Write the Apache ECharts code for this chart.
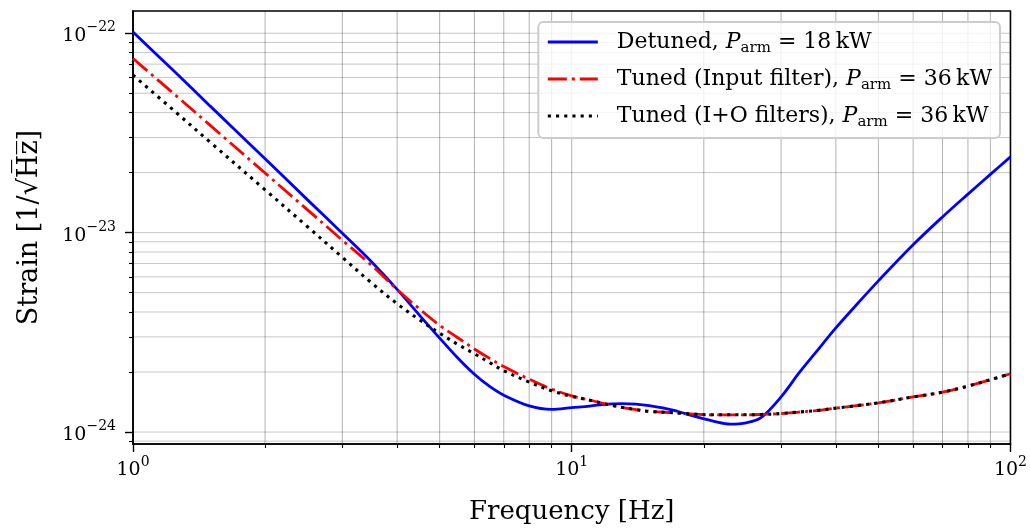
<!DOCTYPE html>
<html><head><meta charset="utf-8">
<script src="https://cdn.jsdelivr.net/npm/echarts@6/dist/echarts.min.js"></script>
<style>html,body{margin:0;padding:0;background:#fff}#c{width:1030px;height:530px}</style>
</head><body><div id="c"></div>
<script>
// ---- data (strain in 1/sqrt(Hz)) ----
const freq = [1,1.25,1.5,2,2.5,3,3.5,4,4.5,5,5.5,6,6.5,7,8,9,10,11,12,13,14,15,17,19,21,23,25,27,30,33,36,40,45,50,60,70,80,90,100];
const detuned = [1.015e-22,6.35e-23,4.31e-23,2.35e-23,1.46e-23,9.93e-24,7.13e-24,5.19e-24,3.85e-24,2.96e-24,2.35e-24,1.948e-24,1.693e-24,1.531e-24,1.353e-24,1.299e-24,1.326e-24,1.35e-24,1.38e-24,1.388e-24,1.38e-24,1.356e-24,1.288e-24,1.20e-24,1.135e-24,1.096e-24,1.113e-24,1.18e-24,1.50e-24,1.984e-24,2.51e-24,3.33e-24,4.45e-24,5.73e-24,8.69e-24,1.199e-23,1.561e-23,1.961e-23,2.40e-23];
const tunedInput = [7.47e-23,4.89e-23,3.45e-23,1.99e-23,1.30e-23,9.17e-24,6.84e-24,5.18e-24,4.14e-24,3.43e-24,2.97e-24,2.61e-24,2.34e-24,2.13e-24,1.84e-24,1.64e-24,1.52e-24,1.445e-24,1.38e-24,1.33e-24,1.296e-24,1.27e-24,1.25e-24,1.23e-24,1.22e-24,1.22e-24,1.22e-24,1.225e-24,1.238e-24,1.26e-24,1.28e-24,1.318e-24,1.36e-24,1.40e-24,1.50e-24,1.585e-24,1.70e-24,1.83e-24,1.96e-24];
const tunedIO = [6.17e-23,4.03e-23,2.84e-23,1.64e-23,1.07e-23,7.52e-24,5.59e-24,4.40e-24,3.65e-24,3.13e-24,2.75e-24,2.47e-24,2.23e-24,2.03e-24,1.78e-24,1.61e-24,1.51e-24,1.445e-24,1.38e-24,1.33e-24,1.296e-24,1.27e-24,1.25e-24,1.23e-24,1.22e-24,1.22e-24,1.22e-24,1.225e-24,1.238e-24,1.26e-24,1.28e-24,1.318e-24,1.36e-24,1.40e-24,1.50e-24,1.585e-24,1.70e-24,1.83e-24,1.96e-24];
const seriesNames = ['Detuned', 'Tuned (Input filter)', 'Tuned (I+O filters)'];
const legendPower = ['18', '36', '36'];
const xMajorTicks = [1, 10, 100];
const xMinorTicks = [2,3,4,5,6,7,8,9,20,30,40,50,60,70,80,90];
const yMajorTicks = [1e-24, 1e-23, 1e-22];
const yMinorTicks = [9e-25,2e-24,3e-24,4e-24,5e-24,6e-24,7e-24,8e-24,9e-24,2e-23,3e-23,4e-23,5e-23,6e-23,7e-23,8e-23,9e-23];
const xLabel = 'Frequency [Hz]';
const yLabel = 'Strain [1/\u221AH\u0305z\u0305]';

// ---- plotting unit: values are drawn in units of 1e-24 (avoids tiny-number rounding in the log axis) ----
const UNIT_EXP = -24;
const toUnit = v => +(v * Math.pow(10, -UNIT_EXP)).toPrecision(8);
const X_MIN = 1, X_MAX = 100;
const Y_MIN = toUnit(8.71e-25), Y_MAX = toUnit(1.293e-22);
const FONT = '"DejaVu Serif", "Liberation Serif", serif';

const powRich = {
  b: { fontFamily: FONT, fontSize: 19, color: '#000', lineHeight: 25, verticalAlign: 'bottom' },
  e: { fontFamily: FONT, fontSize: 14, color: '#000', lineHeight: 14, verticalAlign: 'top' }
};
function powText(e) { return '{b|10}{e|' + (e < 0 ? '\u2212' : '') + Math.abs(e) + '}'; }
const xFmt = v => powText(Math.round(Math.log10(v)));
const yFmt = v => powText(Math.round(Math.log10(v)) + UNIT_EXP);

function gridLines(vals, dir, color) {
  return {
    type: 'custom', name: 'grid-' + dir, silent: true, z: 1,
    xAxisIndex: 0, yAxisIndex: 0,
    data: vals.map(v => dir === 'v' ? [v, Y_MIN] : [X_MIN, v]),
    renderItem: function (params, api) {
      let a, b;
      if (dir === 'v') { const v = api.value(0); a = api.coord([v, Y_MIN]); b = api.coord([v, Y_MAX]); }
      else { const v = api.value(1); a = api.coord([X_MIN, v]); b = api.coord([X_MAX, v]); }
      return { type: 'line', shape: { x1: a[0], y1: a[1], x2: b[0], y2: b[1] },
               style: { stroke: color, lineWidth: 1 } };
    }
  };
}

const chart = echarts.init(document.getElementById('c'), null, { renderer: 'canvas' });
const lineCommon = { type: 'line', showSymbol: false, symbol: 'none', smooth: 0.35, xAxisIndex: 0, yAxisIndex: 0 };
const yMajorU = yMajorTicks.map(toUnit), yMinorU = yMinorTicks.map(toUnit);

chart.setOption({
  animation: false,
  backgroundColor: '#fff',
  grid: { left: 133, right: 18, top: 11, bottom: 85, show: true, borderColor: '#000', borderWidth: 1.6, backgroundColor: 'transparent' },
  xAxis: [
    { type: 'log', logBase: 10, min: X_MIN, max: X_MAX, position: 'bottom',
      axisLine: { show: true, onZero: false, lineStyle: { color: '#000', width: 1.6 } },
      axisTick: { show: true, inside: false, length: 8, lineStyle: { color: '#000', width: 1.4 }, customValues: xMajorTicks },
      axisLabel: { show: true, customValues: xMajorTicks, formatter: xFmt, margin: 11, rich: powRich },
      splitLine: { show: false },
      name: xLabel, nameLocation: 'middle', nameGap: 55,
      nameTextStyle: { fontFamily: FONT, fontSize: 26, color: '#000' } },
    { type: 'log', logBase: 10, min: X_MIN, max: X_MAX, position: 'bottom',
      axisLine: { show: false },
      axisTick: { show: true, inside: false, length: 4, lineStyle: { color: '#000', width: 1.1 }, customValues: xMinorTicks },
      axisLabel: { show: false }, splitLine: { show: false } }
  ],
  yAxis: [
    { type: 'log', logBase: 10, min: Y_MIN, max: Y_MAX, position: 'left',
      axisLine: { show: true, onZero: false, lineStyle: { color: '#000', width: 1.6 } },
      axisTick: { show: true, inside: false, length: 8, lineStyle: { color: '#000', width: 1.4 }, customValues: yMajorU },
      axisLabel: { show: true, customValues: yMajorU, formatter: yFmt, margin: 17, rich: powRich },
      splitLine: { show: false },
      name: yLabel, nameLocation: 'middle', nameGap: 90, nameRotate: 90,
      nameTextStyle: { fontFamily: FONT, fontSize: 27, color: '#000' } },
    { type: 'log', logBase: 10, min: Y_MIN, max: Y_MAX, position: 'left',
      axisLine: { show: false },
      axisTick: { show: true, inside: false, length: 4, lineStyle: { color: '#000', width: 1.1 }, customValues: yMinorU },
      axisLabel: { show: false }, splitLine: { show: false } }
  ],
  legend: {
    data: seriesNames, orient: 'vertical', right: 30, top: 22,
    itemWidth: 50, itemHeight: 14, itemGap: 12,
    padding: [9, 8, 8, 8],
    itemStyle: { opacity: 0 },
    lineStyle: { width: 3 },
    backgroundColor: 'rgba(255,255,255,0.8)', borderColor: '#cccccc', borderWidth: 2, borderRadius: 5,
    formatter: function (name) {
      const i = seriesNames.indexOf(name);
      return '{f|' + name + ', }{i|P}{s|arm}{t| = ' + legendPower[i] + '\u2009kW}';
    },
    textStyle: {
      fontFamily: FONT, fontSize: 22, color: '#000',
      rich: {
        f: { fontFamily: FONT, fontSize: 22, color: '#000', lineHeight: 28, padding: [0, 0, 0, 14] },
        t: { fontFamily: FONT, fontSize: 22, color: '#000', lineHeight: 28 },
        i: { fontFamily: FONT, fontSize: 22, color: '#000', lineHeight: 28, fontStyle: 'italic' },
        s: { fontFamily: FONT, fontSize: 15, color: '#000', lineHeight: 13, verticalAlign: 'bottom' }
      }
    }
  },
  series: [
    gridLines(xMinorTicks.concat([10]), 'v', 'rgba(0,0,0,0.3)'),
    gridLines(yMinorU.concat(yMajorU), 'h', 'rgba(0,0,0,0.22)'),
    Object.assign({}, lineCommon, { name: seriesNames[0], z: 3,
      data: freq.map((f, i) => [f, toUnit(detuned[i])]),
      lineStyle: { color: '#0000ff', width: 2.8 }, itemStyle: { color: '#0000ff', opacity: 0 } }),
    Object.assign({}, lineCommon, { name: seriesNames[1], z: 4,
      data: freq.map((f, i) => [f, toUnit(tunedInput[i])]),
      lineStyle: { color: '#ff0000', width: 2.8, type: [19, 5, 3, 5], cap: 'butt' }, itemStyle: { color: '#ff0000', opacity: 0 } }),
    Object.assign({}, lineCommon, { name: seriesNames[2], z: 5,
      data: freq.map((f, i) => [f, toUnit(tunedIO[i])]),
      lineStyle: { color: '#000000', width: 3.1, type: [3.1, 5.1], cap: 'butt' }, itemStyle: { color: '#000000', opacity: 0 } })
  ]
});
</script></body></html>
